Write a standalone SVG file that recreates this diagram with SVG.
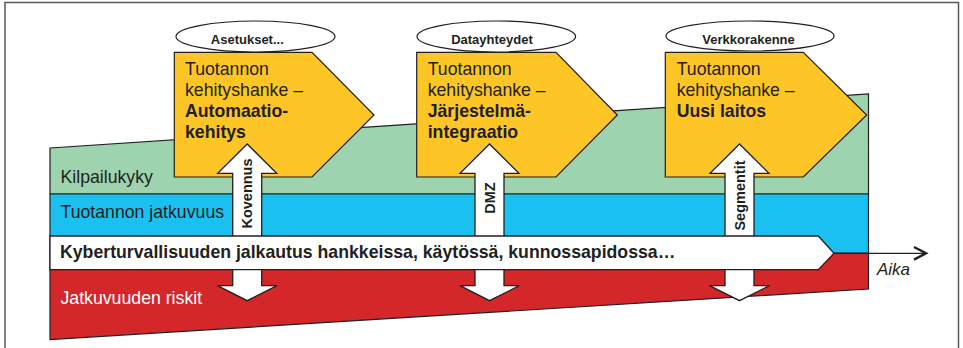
<svg xmlns="http://www.w3.org/2000/svg" width="963" height="348" viewBox="0 0 963 348">
  <style>
    .t { font-family: "Liberation Sans", Arial, sans-serif; fill: #231f20; }
    .b { font-weight: bold; }
    .big { font-size: 17.7px; }
    .tag { font-size: 13px; font-weight: bold; text-anchor: middle; }
    .vert { font-size: 14.5px; font-weight: bold; text-anchor: middle; }
    .edge { stroke: #231f20; stroke-width: 1.2; stroke-linejoin: miter; }
    .proj { fill: #fdc526; stroke: #231f20; stroke-width: 1.2; }
    .oval { fill: #ffffff; stroke: #231f20; stroke-width: 1.2; }
    .warrow { fill: #ffffff; stroke: #231f20; stroke-width: 1.3; stroke-linejoin: miter; }
  </style>

  <!-- outer frame -->
  <rect x="5" y="2.5" width="953.5" height="360" fill="#ffffff" stroke="#5a5a5a" stroke-width="1.5"/>

  <!-- bands -->
  <g id="bands">
    <polygon id="kilpailukyky" points="50,148 868.5,94 868.5,194 50,194" fill="#9dd3ae" class="edge"/>
    <polygon id="jatkuvuus" points="50,194 868.5,194 868.5,253.3 50,253.3" fill="#19c0f0" class="edge"/>
    <polygon id="riskit" points="50,253.3 868.5,253.3 868.5,289 50,339.5" fill="#d32729" class="edge"/>
    <text class="t big" x="60.5" y="183.3">Kilpailukyky</text>
    <text class="t big" x="60.5" y="218.3">Tuotannon jatkuvuus</text>
    <text class="t big" x="60.5" y="304.3" style="fill:#ffffff">Jatkuvuuden riskit</text>
  </g>

  <!-- project 1 -->
  <g id="hanke-automaatio">
    <polygon class="proj" points="174.3,52.3 312,52.3 374,115 312,177 174.3,177"/>
    <ellipse class="oval" cx="255.5" cy="36.5" rx="79.5" ry="15.5"/>
    <text class="t tag" x="247.3" y="44.3">Asetukset...</text>
    <text class="t big" x="185" y="75">Tuotannon</text>
    <text class="t big" x="185" y="96">kehityshanke –</text>
    <text class="t big b" x="185" y="117.3">Automaatio-</text>
    <text class="t big b" x="185" y="138.3">kehitys</text>
  </g>

  <!-- project 2 -->
  <g id="hanke-integraatio">
    <polygon class="proj" points="416.7,52.3 556,52.3 617.3,115 556,177 416.7,177"/>
    <ellipse class="oval" cx="496.3" cy="36.5" rx="79.3" ry="15.5"/>
    <text class="t tag" x="492" y="44.3">Datayhteydet</text>
    <text class="t big" x="427.7" y="75">Tuotannon</text>
    <text class="t big" x="427.7" y="96">kehityshanke –</text>
    <text class="t big b" x="427.7" y="117.3">Järjestelmä-</text>
    <text class="t big b" x="427.7" y="138.3">integraatio</text>
  </g>

  <!-- project 3 -->
  <g id="hanke-laitos">
    <polygon class="proj" points="665.3,52.3 803.3,52.3 866.7,115 803.3,177 665.3,177"/>
    <ellipse class="oval" cx="750" cy="36" rx="84" ry="15"/>
    <text class="t tag" x="748.5" y="44.3">Verkkorakenne</text>
    <text class="t big" x="676.7" y="75">Tuotannon</text>
    <text class="t big" x="676.7" y="96">kehityshanke –</text>
    <text class="t big b" x="676.7" y="117.3">Uusi laitos</text>
  </g>

  <!-- connectors: vertical arrows through the bands -->
  <g id="connectors">
    <polygon class="warrow" points="232.7,237 232.7,173.3 217.7,173.3 247.2,144 276.7,173.3 261.7,173.3 261.7,237"/>
    <polygon class="warrow" points="232.7,268 232.7,285.7 217.5,285.7 247.2,300.7 277,285.7 261.7,285.7 261.7,268"/>
    <polygon class="warrow" points="475,237 475,173.3 460,173.3 489.5,144 519,173.3 504,173.3 504,237"/>
    <polygon class="warrow" points="475,268 475,285.7 460,285.7 489.5,300.7 519.3,285.7 504,285.7 504,268"/>
    <polygon class="warrow" points="725,237 725,173.3 710,173.3 739.5,144 769,173.3 754,173.3 754,237"/>
    <polygon class="warrow" points="725,268 725,285.7 709.5,285.7 739.5,300.7 769.3,285.7 754,285.7 754,268"/>

    <!-- time axis -->
    <line x1="834" y1="253.3" x2="925" y2="253.3" stroke="#231f20" stroke-width="1.3"/>
    <polyline points="914,247 926,253.3 914,259.6" fill="none" stroke="#231f20" stroke-width="2.4"/>
  </g>

  <!-- labels on the vertical arrows -->
  <g id="arrow-labels">
    <text class="t vert" transform="translate(252.4,193.5) rotate(-90)">Kovennus</text>
    <text class="t vert" transform="translate(494.7,198) rotate(-90)">DMZ</text>
    <text class="t vert" transform="translate(744.7,195.5) rotate(-90)">Segmentit</text>
  </g>

  <!-- main horizontal arrow -->
  <g id="kyberturvallisuus">
    <polygon class="warrow" points="50,236 818.3,236 834,253.3 818.3,269.7 50,269.7"/>
    <text class="t big b" x="60" y="258.3">Kyberturvallisuuden jalkautus hankkeissa, käytössä, kunnossapidossa…</text>
  </g>

  <text class="t" x="877" y="275" style="font-size:17px;font-style:italic">Aika</text>
</svg>
